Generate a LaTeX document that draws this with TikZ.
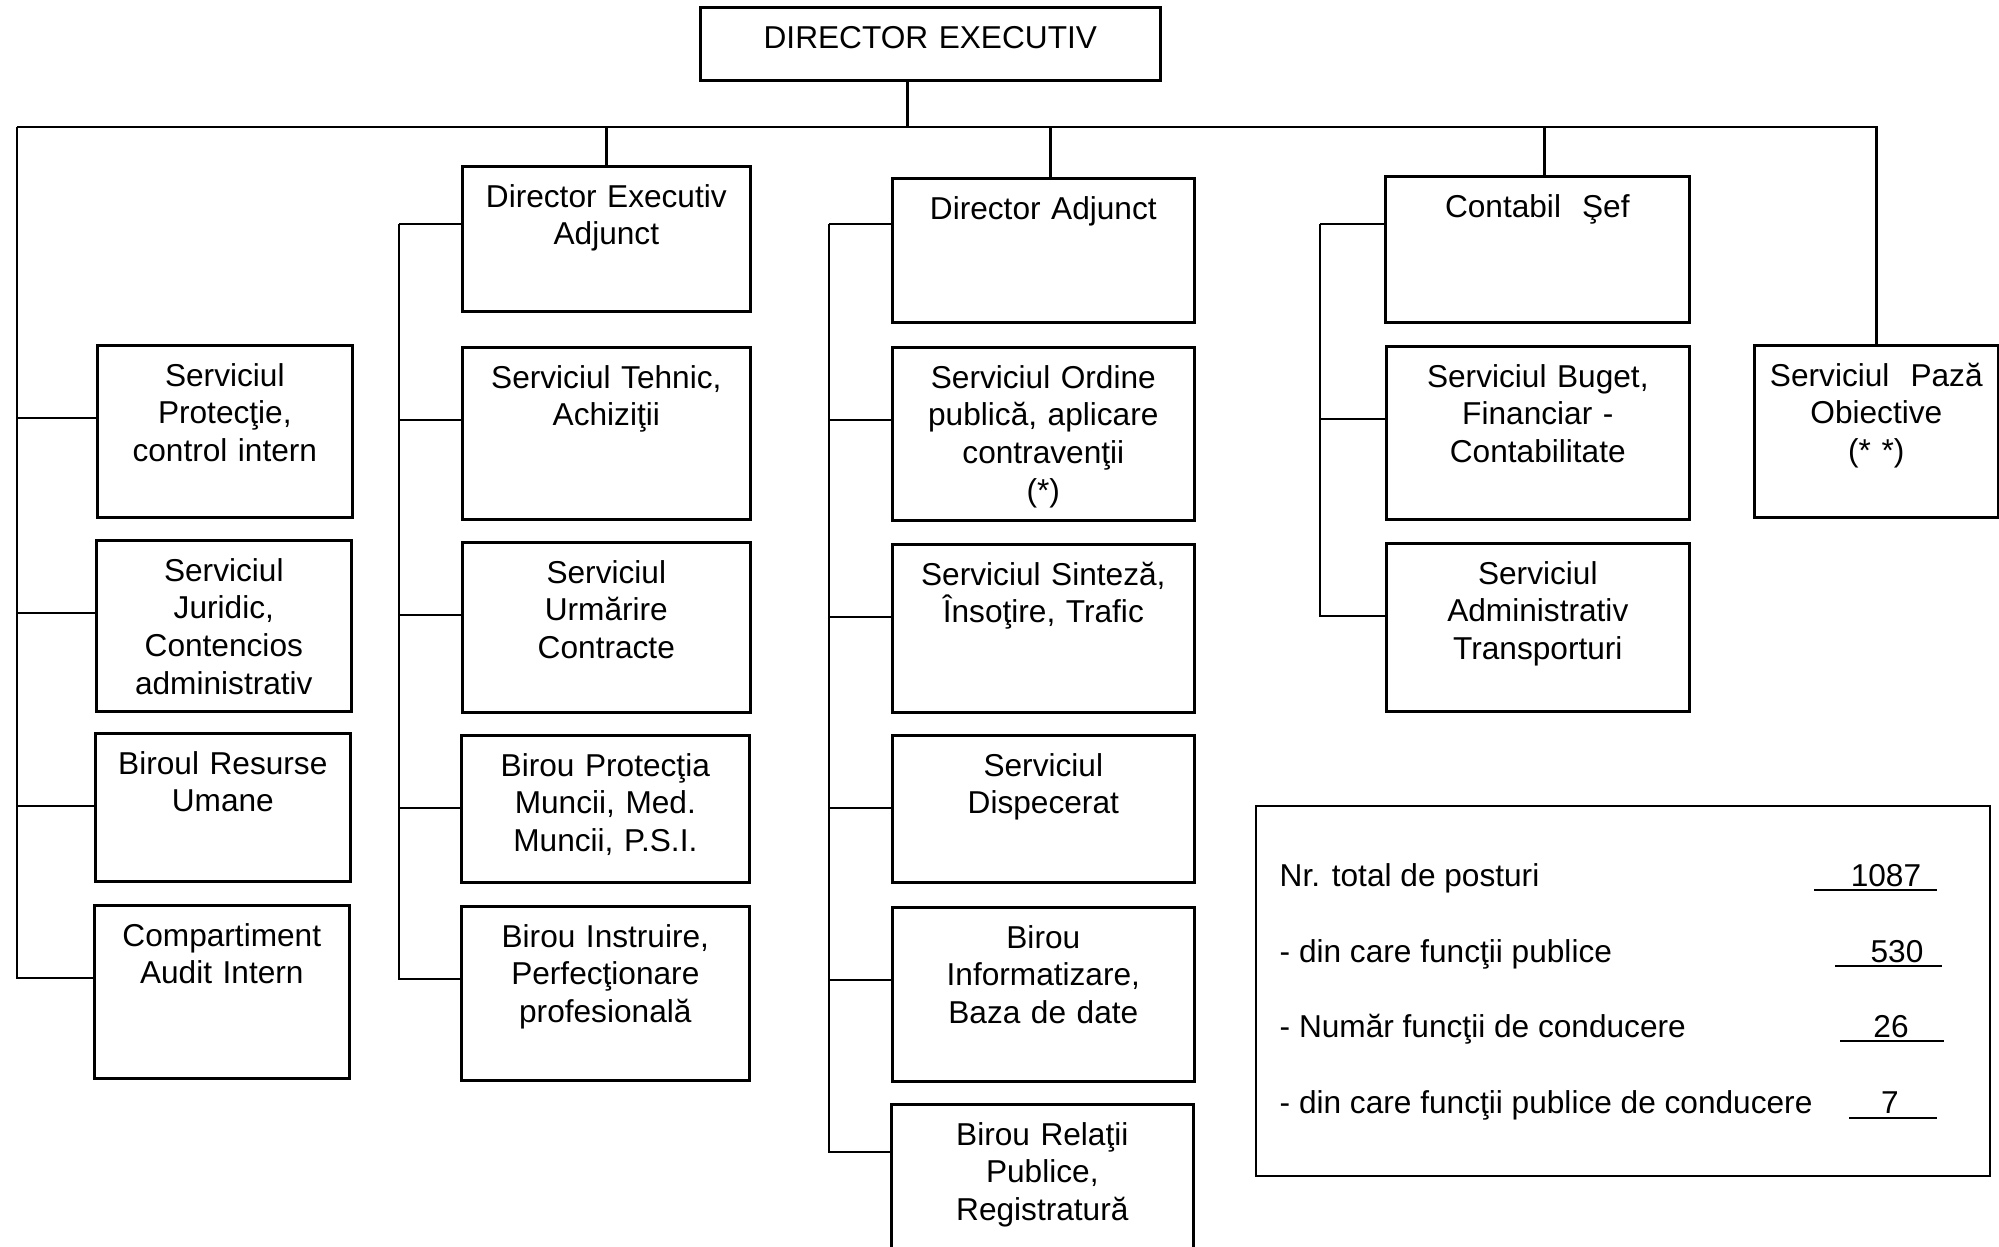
\documentclass[tikz,border=0pt]{standalone}
\usepackage{fontspec}
\setmainfont{Liberation Sans}
\tikzset{
  caixa/.style 2 args={draw, line width=0.75pt, anchor=north west, inner sep=0pt,
    text width=#1, align=center, text height=0.41cm, text depth=#2},
  linha/.style={line width=0.75pt}
}
\begin{document}
\begin{tikzpicture}[font={\fontsize{9}{10.7}\selectfont}]
    \useasboundingbox (0,0) rectangle (19.99,-12.46);
    \clip (0,0) rectangle (19.99,-12.46);
    % Caixa do topo e chefias
    \node[caixa={4.60cm}{0.32cm}] (a) at (6.99,-0.06) {DIRECTOR EXECUTIV};
    \node[caixa={2.88cm}{1.04cm}] (b) at (4.61,-1.65) {Director Executiv\\Adjunct};
    \node[caixa={3.02cm}{1.03cm}] (c) at (8.91,-1.77) {Director Adjunct};
    \node[caixa={3.04cm}{1.05cm}] (d) at (13.84,-1.75) {Contabil\ \ Şef};
    \node[caixa={2.44cm}{1.31cm}] (e) at (17.53,-3.44) {Serviciul\ \ Pază\\Obiective\\(* *)};
    % Primeira coluna
    \node[caixa={2.55cm}{1.31cm}] (f) at (0.96,-3.44) {Serviciul\\Protecţie,\\control intern};
    \node[caixa={2.55cm}{1.30cm}] (g) at (0.95,-5.39) {Serviciul\\Juridic,\\Contencios\\administrativ};
    \node[caixa={2.55cm}{1.07cm}] (h) at (0.94,-7.32) {Biroul Resurse\\Umane};
    \node[caixa={2.55cm}{1.32cm}] (i) at (0.93,-9.04) {Compartiment\\Audit Intern};
    % Segunda coluna
    \node[caixa={2.88cm}{1.31cm}] (j) at (4.61,-3.46) {Serviciul Tehnic,\\Achiziţii};
    \node[caixa={2.88cm}{1.29cm}] (k) at (4.61,-5.41) {Serviciul\\Urmărire\\Contracte};
    \node[caixa={2.88cm}{1.06cm}] (l) at (4.60,-7.34) {Birou Protecţia\\Muncii, Med.\\Muncii, P.S.I.};
    \node[caixa={2.88cm}{1.33cm}] (m) at (4.60,-9.05) {Birou Instruire,\\Perfecţionare\\profesională};
    % Terceira coluna
    \node[caixa={3.02cm}{1.32cm}] (n) at (8.91,-3.46) {Serviciul Ordine\\publică, aplicare\\contravenţii\\(*)};
    \node[caixa={3.02cm}{1.27cm}] (o) at (8.91,-5.43) {Serviciul Sinteză,\\Însoţire, Trafic};
    \node[caixa={3.02cm}{1.06cm}] (p) at (8.91,-7.34) {Serviciul\\Dispecerat};
    \node[caixa={3.02cm}{1.33cm}] (q) at (8.91,-9.06) {Birou\\Informatizare,\\Baza de date};
    \node[caixa={3.02cm}{1.80cm}] (r) at (8.90,-11.03) {Birou Relaţii\\Publice,\\Registratură};
    % Quarta coluna
    \node[caixa={3.03cm}{1.32cm}] (s) at (13.85,-3.45) {Serviciul Buget,\\Financiar -\\Contabilitate};
    \node[caixa={3.03cm}{1.27cm}] (t) at (13.85,-5.42) {Serviciul\\Administrativ\\Transporturi};
    % Ligacoes
    \coordinate (x0) at ([xshift=-2.3mm]a.south);
    \coordinate (x1) at (0.17,-1.27);
    \coordinate (x2) at (3.99,-2.24);
    \coordinate (x3) at (8.29,-2.24);
    \coordinate (x4) at (13.20,-2.24);
    \draw[linha] (x0) -- (x0 |- x1);
    \draw[linha] (x1) -| (e.north);
    \draw[linha] (b.north) -- (b.north |- x1);
    \foreach \n in {c,d} \draw[linha] ([xshift=0.7mm]\n.north) -- ([xshift=0.7mm]\n.north |- x1);
    \foreach \n in {f,g,h,i} \draw[linha] ([yshift=-7.4mm]\n.north west) -| (x1);
    \draw[linha] (x2) -- (x2 -| b.west);
    \foreach \n in {j,k,l,m} \draw[linha] ([yshift=-7.4mm]\n.north west) -| (x2);
    \draw[linha] (x3) -- (x3 -| c.west);
    \foreach \n in {n,o,p,q} \draw[linha] ([yshift=-7.4mm]\n.north west) -| (x3);
    \draw[linha] ([yshift=-4.9mm]r.north west) -| (x3);
    \draw[linha] (x4) -- (x4 -| d.west);
    \foreach \n in {s,t} \draw[linha] ([yshift=-7.4mm]\n.north west) -| (x4);
    % Quadro com os totais
    \draw[linha] (12.56,-8.06) rectangle (19.90,-11.76);
    \node[anchor=base west, inner sep=0pt] (u1) at (12.79,-8.86)  {Nr. total de posturi};
    \node[anchor=base west, inner sep=0pt] (u2) at (12.79,-9.62)  {- din care funcţii publice};
    \node[anchor=base west, inner sep=0pt] (u3) at (12.79,-10.37) {- Număr funcţii de conducere};
    \node[anchor=base west, inner sep=0pt] (u4) at (12.79,-11.13) {- din care funcţii publice de conducere};
    \node[anchor=base] (v1) at (18.86,-8.86)  {1087};
    \node[anchor=base] (v2) at (18.97,-9.62)  {530};
    \node[anchor=base] (v3) at (18.91,-10.37) {26};
    \node[anchor=base] (v4) at (18.90,-11.13) {7};
    \draw[line width=0.6pt] ([shift={(-0.72,-0.04)}]v1.base) -- ([shift={(0.51,-0.04)}]v1.base);
    \draw[line width=0.6pt] ([shift={(-0.62,-0.04)}]v2.base) -- ([shift={(0.45,-0.04)}]v2.base);
    \draw[line width=0.6pt] ([shift={(-0.51,-0.04)}]v3.base) -- ([shift={(0.53,-0.04)}]v3.base);
    \draw[line width=0.6pt] ([shift={(-0.41,-0.05)}]v4.base) -- ([shift={(0.47,-0.05)}]v4.base);
\end{tikzpicture}
\end{document}
